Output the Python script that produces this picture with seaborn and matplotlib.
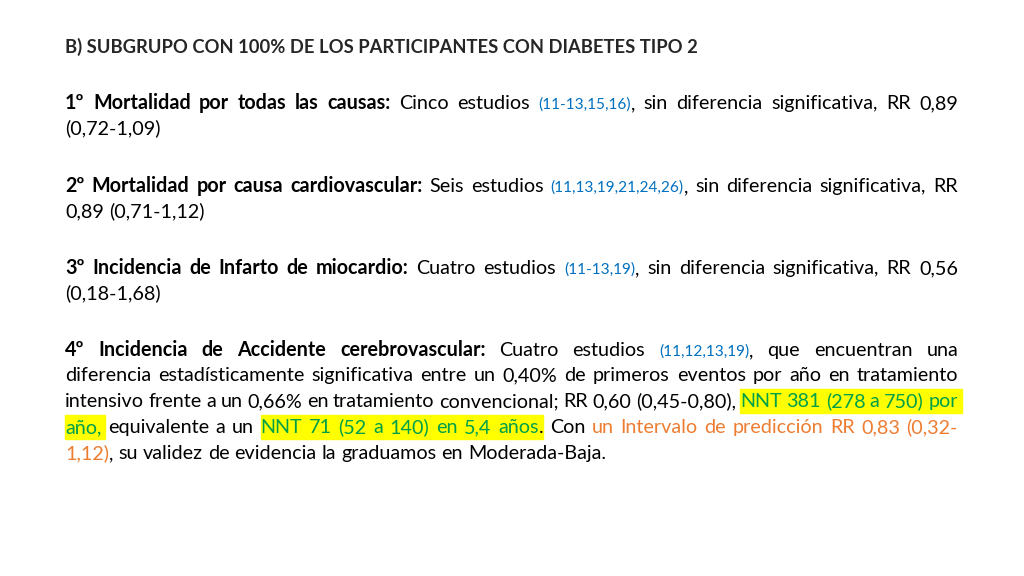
import matplotlib
matplotlib.use("Agg")
import matplotlib.pyplot as plt
import seaborn as sns
from matplotlib.patches import Rectangle

sns.set_theme(style="white")

FONT = "Lato"
SIZE = 14.2
TITLE_SIZE = 13.2
COLORS = {"n": "black", "b": "black", "c": "#0070C0", "h": "#00A04A", "o": "#ED7D31"}

title = "B) SUBGRUPO CON 100% DE LOS PARTICIPANTES CON DIABETES TIPO 2"

# each line: (y, justified, [(text, kind), ...])
lines = [
    (109, True, [("1º Mortalidad por todas las causas:", "b"), (" Cinco estudios ", "n"), ("(11-13,15,16)", "c"),
                 (", sin diferencia significativa, RR 0,89", "n")]),
    (134, False, [("(0,72-1,09)", "n")]),
    (192, True, [("2º Mortalidad por causa cardiovascular:", "b"), (" Seis estudios ", "n"), ("(11,13,19,21,24,26)", "c"),
                 (", sin diferencia significativa, RR", "n")]),
    (217, False, [("0,89 (0,71-1,12)", "n")]),
    (274, True, [("3º Incidencia de Infarto de miocardio:", "b"), (" Cuatro estudios ", "n"), ("(11-13,19)", "c"),
                 (", sin diferencia significativa, RR 0,56", "n")]),
    (299, False, [("(0,18-1,68)", "n")]),
    (356, True, [("4º Incidencia de Accidente cerebrovascular:", "b"), (" Cuatro estudios ", "n"), ("(11,12,13,19)", "c"),
                 (", que encuentran una", "n")]),
    (381, True, [("diferencia estadísticamente significativa entre un 0,40% de primeros eventos por año en tratamiento", "n")]),
    (407, True, [("intensivo frente a un 0,66% en tratamiento convencional; RR 0,60 (0,45-0,80), ", "n"),
                 ("NNT 381 (278 a 750) por", "h")]),
    (433, True, [("año,", "h"), (" equivalente a un ", "n"), ("NNT 71 (52 a 140) en 5,4 años", "h"), (". Con ", "n"),
                 ("un Intervalo de predicción RR 0,83 (0,32-", "o")]),
    (459, False, [("1,12)", "o"), (", su validez de evidencia la graduamos en Moderada-Baja.", "n")]),
]

X0, X1 = 65, 958

fig = plt.figure(figsize=(10.24, 5.76), dpi=100)
ax = fig.add_axes([0, 0, 1, 1])
ax.set_xlim(0, 1024)
ax.set_ylim(576, 0)
ax.axis("off")
renderer = fig.canvas.get_renderer()


def props(kind):
    return dict(fontfamily=FONT, fontsize=SIZE * (0.78 if kind == "c" else 1.0),
                fontweight="bold" if kind == "b" else "normal", color=COLORS[kind])


def width(s, kind):
    t = ax.text(0, 0, s, **props(kind))
    w = t.get_window_extent(renderer).width
    t.remove()
    return w


ax.text(X0, 53, title, va="baseline", fontfamily=FONT, fontsize=TITLE_SIZE, fontweight="bold")

for y, just, segs in lines:
    words, cur = [], []
    for text, kind in segs:
        parts = text.split(" ")
        for i, p in enumerate(parts):
            if i > 0:
                if cur:
                    words.append(cur)
                cur = []
            if p:
                cur.append((p, kind))
    if cur:
        words.append(cur)
    wws = [sum(width(p, k) for p, k in w) for w in words]
    if just and len(words) > 1:
        gap = (X1 - X0 - sum(wws)) / (len(words) - 1)
    else:
        gap = width("a b", "n") - width("ab", "n")
    x = X0
    placed = []
    for w, ww in zip(words, wws):
        px = x
        for p, k in w:
            pw = width(p, k)
            ax.text(px, y, p, va="baseline", **props(k))
            placed.append((px, px + pw, k))
            px += pw
        x += ww + gap
    i = 0
    while i < len(placed):
        if placed[i][2] == "h":
            j = i
            while j + 1 < len(placed) and placed[j + 1][2] == "h":
                j += 1
            xa, xb = placed[i][0], placed[j][1]
            ax.add_patch(Rectangle((xa, y - 18), xb - xa + 4, 24, color="#FFFF00", zorder=0))
            i = j + 1
        else:
            i += 1

fig.savefig("out.png", dpi=100, facecolor="white")
